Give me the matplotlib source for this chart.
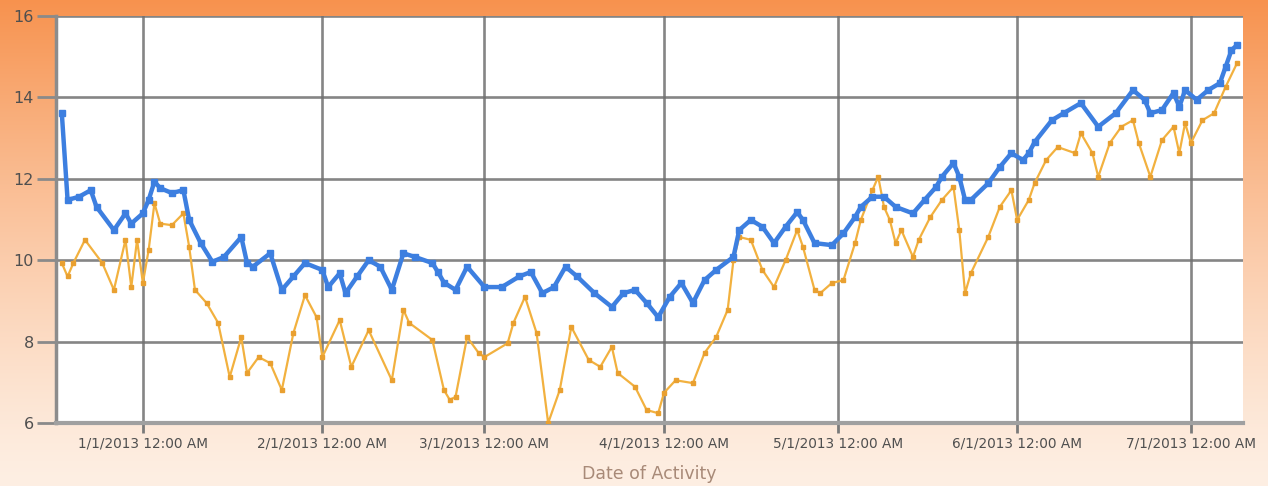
import numpy as np
import pandas as pd
import matplotlib
matplotlib.use("Agg")
import matplotlib.pyplot as plt

# ---- data ----
blue_dates = ["2012-12-18", "2012-12-19", "2012-12-21", "2012-12-23", "2012-12-24", "2012-12-27",
              "2012-12-29", "2012-12-30", "2013-01-01", "2013-01-02", "2013-01-03", "2013-01-04",
              "2013-01-06", "2013-01-08", "2013-01-09", "2013-01-11", "2013-01-13", "2013-01-15",
              "2013-01-18", "2013-01-19", "2013-01-20", "2013-01-23", "2013-01-25", "2013-01-27",
              "2013-01-29", "2013-02-01", "2013-02-02", "2013-02-04", "2013-02-05", "2013-02-07",
              "2013-02-09", "2013-02-11", "2013-02-13", "2013-02-15", "2013-02-17", "2013-02-20",
              "2013-02-21", "2013-02-22", "2013-02-24", "2013-02-26", "2013-03-01", "2013-03-04",
              "2013-03-07", "2013-03-09", "2013-03-11", "2013-03-13", "2013-03-15", "2013-03-17",
              "2013-03-20", "2013-03-23", "2013-03-25", "2013-03-27", "2013-03-29", "2013-03-31",
              "2013-04-02", "2013-04-04", "2013-04-06", "2013-04-08", "2013-04-10", "2013-04-13",
              "2013-04-14", "2013-04-16", "2013-04-18", "2013-04-20", "2013-04-22", "2013-04-24",
              "2013-04-25", "2013-04-27", "2013-04-30", "2013-05-02", "2013-05-04", "2013-05-05",
              "2013-05-07", "2013-05-09", "2013-05-11", "2013-05-14", "2013-05-16", "2013-05-18",
              "2013-05-19", "2013-05-21", "2013-05-22", "2013-05-23", "2013-05-24", "2013-05-27",
              "2013-05-29", "2013-05-31", "2013-06-02", "2013-06-03", "2013-06-04", "2013-06-07",
              "2013-06-09", "2013-06-12", "2013-06-15", "2013-06-18", "2013-06-21", "2013-06-23",
              "2013-06-24", "2013-06-26", "2013-06-28", "2013-06-29", "2013-06-30", "2013-07-02",
              "2013-07-04", "2013-07-06", "2013-07-07", "2013-07-08", "2013-07-09"]
blue_values = [13.62, 11.48, 11.56, 11.72, 11.31, 10.74,
               11.15, 10.90, 11.15, 11.48, 11.93, 11.77,
               11.65, 11.72, 10.99, 10.42, 9.96, 10.08,
               10.57, 9.93, 9.84, 10.17, 9.27, 9.60,
               9.93, 9.76, 9.34, 9.68, 9.19, 9.60,
               10.00, 9.84, 9.27, 10.17, 10.08, 9.93,
               9.70, 9.45, 9.27, 9.84, 9.34, 9.34,
               9.60, 9.71, 9.19, 9.34, 9.84, 9.60,
               9.19, 8.85, 9.19, 9.27, 8.95, 8.60,
               9.10, 9.44, 8.95, 9.51, 9.76, 10.08,
               10.74, 10.99, 10.82, 10.42, 10.82, 11.18,
               10.99, 10.42, 10.37, 10.66, 11.06, 11.31,
               11.56, 11.56, 11.31, 11.15, 11.48, 11.80,
               12.05, 12.39, 12.05, 11.48, 11.48, 11.89,
               12.29, 12.63, 12.46, 12.63, 12.90, 13.44,
               13.61, 13.86, 13.28, 13.61, 14.18, 13.94,
               13.61, 13.69, 14.11, 13.77, 14.18, 13.94,
               14.18, 14.35, 14.75, 15.16, 15.29]

orange_dates = ["2012-12-18", "2012-12-19", "2012-12-20", "2012-12-22", "2012-12-25", "2012-12-27",
                "2012-12-29", "2012-12-30", "2012-12-31", "2013-01-01", "2013-01-02", "2013-01-03",
                "2013-01-04", "2013-01-06", "2013-01-08", "2013-01-09", "2013-01-10", "2013-01-12",
                "2013-01-14", "2013-01-16", "2013-01-18", "2013-01-19", "2013-01-21", "2013-01-23",
                "2013-01-25", "2013-01-27", "2013-01-29", "2013-01-31", "2013-02-01", "2013-02-04",
                "2013-02-06", "2013-02-09", "2013-02-13", "2013-02-15", "2013-02-16", "2013-02-20",
                "2013-02-22", "2013-02-23", "2013-02-24", "2013-02-26", "2013-02-28", "2013-03-01",
                "2013-03-05", "2013-03-06", "2013-03-08", "2013-03-10", "2013-03-12", "2013-03-14",
                "2013-03-16", "2013-03-19", "2013-03-21", "2013-03-23", "2013-03-24", "2013-03-27",
                "2013-03-29", "2013-03-31", "2013-04-01", "2013-04-03", "2013-04-06", "2013-04-08",
                "2013-04-10", "2013-04-12", "2013-04-13", "2013-04-14", "2013-04-16", "2013-04-18",
                "2013-04-20", "2013-04-22", "2013-04-24", "2013-04-25", "2013-04-27", "2013-04-28",
                "2013-04-30", "2013-05-02", "2013-05-04", "2013-05-05", "2013-05-07", "2013-05-08",
                "2013-05-09", "2013-05-10", "2013-05-11", "2013-05-12", "2013-05-14", "2013-05-15",
                "2013-05-17", "2013-05-19", "2013-05-21", "2013-05-22", "2013-05-23", "2013-05-24",
                "2013-05-27", "2013-05-29", "2013-05-31", "2013-06-01", "2013-06-03", "2013-06-04",
                "2013-06-06", "2013-06-08", "2013-06-11", "2013-06-12", "2013-06-14", "2013-06-15",
                "2013-06-17", "2013-06-19", "2013-06-21", "2013-06-22", "2013-06-24", "2013-06-26",
                "2013-06-28", "2013-06-29", "2013-06-30", "2013-07-01", "2013-07-03", "2013-07-05",
                "2013-07-07", "2013-07-09"]
orange_values = [9.93, 9.60, 9.93, 10.50, 9.93, 9.27,
                 10.50, 9.34, 10.50, 9.44, 10.25, 11.40,
                 10.90, 10.86, 11.15, 10.33, 9.27, 8.95,
                 8.46, 7.13, 8.11, 7.23, 7.62, 7.47,
                 6.81, 8.21, 9.14, 8.60, 7.62, 8.53,
                 7.38, 8.28, 7.05, 8.78, 8.46, 8.04,
                 6.81, 6.57, 6.64, 8.11, 7.72, 7.62,
                 7.96, 8.46, 9.10, 8.21, 6.00, 6.81,
                 8.36, 7.55, 7.38, 7.87, 7.23, 6.89,
                 6.32, 6.24, 6.74, 7.05, 6.98, 7.72,
                 8.11, 8.78, 10.00, 10.57, 10.50, 9.76,
                 9.34, 10.00, 10.74, 10.33, 9.27, 9.19,
                 9.44, 9.51, 10.42, 10.99, 11.72, 12.05,
                 11.31, 10.99, 10.42, 10.74, 10.08, 10.50,
                 11.06, 11.48, 11.80, 10.74, 9.19, 9.68,
                 10.57, 11.31, 11.72, 10.99, 11.48, 11.89,
                 12.46, 12.78, 12.63, 13.12, 12.63, 12.05,
                 12.88, 13.28, 13.44, 12.88, 12.05, 12.95,
                 13.28, 12.63, 13.37, 12.88, 13.44, 13.61,
                 14.26, 14.85]

y_ticks = [6, 8, 10, 12, 14, 16]
x_tick_dates = ["2013-01-01", "2013-02-01", "2013-03-01", "2013-04-01",
                "2013-05-01", "2013-06-01", "2013-07-01"]
x_label = "Date of Activity"

# ---- figure ----
W, H = 1268, 486
fig = plt.figure(figsize=(W / 100, H / 100), dpi=100)

# background gradient (orange at top, fading to pale peach at bottom)
bg = fig.add_axes([0, 0, 1, 1], zorder=-10)
yy, xx = np.mgrid[0:H, 0:W]
yn = yy / (H - 1)
w = 0.08 + 0.92 * (1 - yn) ** 1.3
orange = np.array([247, 146, 78]) / 255
pale = np.array([254, 247, 240]) / 255
img = pale[None, None, :] * (1 - w[..., None]) + orange[None, None, :] * w[..., None]
bg.imshow(img, aspect="auto", extent=[0, 1, 0, 1], interpolation="bilinear")
bg.set_axis_off()

ax = fig.add_axes([56 / W, 1 - 423 / H, (1243 - 56) / W, (423 - 16) / H])
ax.set_facecolor("white")

bd = pd.to_datetime(blue_dates)
od = pd.to_datetime(orange_dates)
ax.plot(bd, blue_values, color="#3d7fe0", lw=3.2, marker="s", ms=4.5,
        mec="#3d7fe0", mfc="#3d7fe0", zorder=4, solid_joinstyle="round")
ax.plot(od, orange_values, color="#f2b13f", lw=1.6, marker="s", ms=2.6,
        mec="#e9a030", mfc="#e9a030", zorder=3)

ax.set_xlim(pd.Timestamp("2012-12-17"), pd.Timestamp("2013-07-10"))
ax.set_ylim(6, 16)
ax.set_yticks(y_ticks)
ax.set_yticklabels([str(v) for v in y_ticks])
xt = pd.to_datetime(x_tick_dates)
ax.set_xticks(xt)
ax.set_xticklabels([f"{d.month}/{d.day}/{d.year} 12:00 AM" for d in xt])

ax.grid(True, color="#707070", lw=1.9, alpha=0.85, zorder=1)
ax.set_axisbelow(True)
for s in ["top", "right"]:
    ax.spines[s].set_visible(False)
ax.spines["left"].set_color("#8c8c8c")
ax.spines["left"].set_linewidth(2.5)
ax.spines["bottom"].set_color("#a0a0a0")
ax.spines["bottom"].set_linewidth(3)

ax.tick_params(axis="y", length=14, width=2, color="#8a8a8a", pad=2,
               labelsize=11.5, labelcolor="#4f4f4f")
ax.tick_params(axis="x", length=7, width=2, color="#7a7a7a", pad=3,
               labelsize=9.8, labelcolor="#4f4f4f")
for lab in ax.get_xticklabels() + ax.get_yticklabels():
    lab.set_fontfamily("DejaVu Sans")
ax.set_xlabel(x_label, fontsize=12.5, color="#a88a78", labelpad=10,
              fontfamily="DejaVu Sans")

fig.savefig("out.png", dpi=100)
